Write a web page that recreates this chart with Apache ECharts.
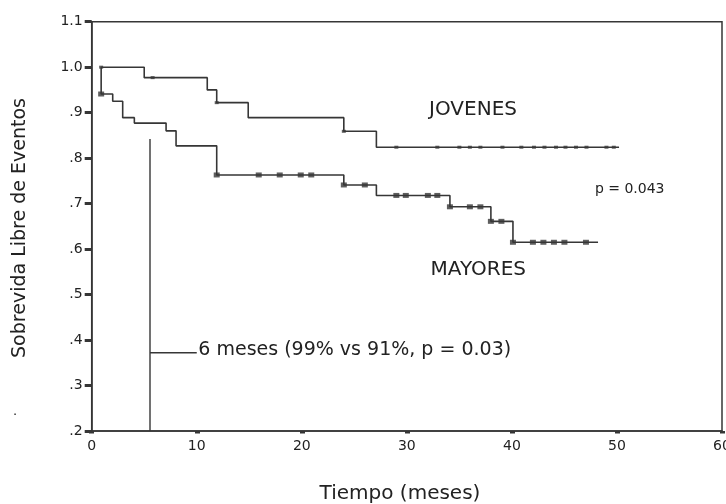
<!DOCTYPE html>
<html>
<head>
<meta charset="utf-8">
<script src="https://cdn.jsdelivr.net/npm/echarts@6/dist/echarts.min.js"></script>
<style>
html, body { margin: 0; padding: 0; background: #fff; }
#chart { width: 726px; height: 504px; }
</style>
</head>
<body>
<div id="chart"></div>
<script>
// ticks
const xTicks = ['0', '10', '20', '30', '40', '50', '60'];
const yTickLabels = ['.2', '.3', '.4', '.5', '.6', '.7', '.8', '.9', '1.0', '1.1'];

// JOVENES curve (meses / sobrevida)
const jovStart = 0.9;
const jovTimes = [5.0, 11.0, 11.9, 14.9, 24.0, 27.1];
const jovSurv = [0.977, 0.950, 0.922, 0.889, 0.859, 0.824];
const jovEnd = 50.2;
const jovCensor = [0.9, 5.8, 11.9, 24.0, 29.0, 32.9, 35.0, 36.0, 37.0, 39.1, 40.9, 42.1, 43.1, 44.2, 45.1, 46.1, 47.1, 49.0, 49.7];

// MAYORES curve
const mayStart = 0.9;
const mayTimes = [0.9, 2.0, 2.95, 4.06, 7.08, 8.03, 11.9, 24.0, 27.1, 34.1, 38.0, 40.1];
const maySurv = [0.941, 0.925, 0.889, 0.877, 0.860, 0.827, 0.763, 0.741, 0.718, 0.693, 0.661, 0.615];
const mayEnd = 48.2;
const mayCensor = [0.9, 11.9, 15.9, 17.9, 19.9, 20.9, 24.0, 26.0, 29.0, 29.9, 32.0, 32.9, 34.1, 36.0, 37.0, 38.0, 39.0, 40.1, 42.0, 43.0, 44.0, 45.0, 47.05];

// 6 month marker
const sixMonthX = 5.55;
const sixMonthTop = 0.842;
const sixMonthY = 0.372;
const sixMonthEnd = 10.0;

// annotation texts [x, y, text, align, size]
const notes = [
    [36.3, 0.906, 'JOVENES', 'center', 20],
    [36.8, 0.554, 'MAYORES', 'center', 20],
    [47.9, 0.732, 'p = 0.043', 'left', 14],
    [10.15, 0.378, '6 meses (99% vs 91%, p = 0.03)', 'left', 19]
];

function kmLine(start, times, surv, end) {
    let d = [[start, 1.0]];
    for (let i = 0; i < times.length; i++) d.push([times[i], surv[i]]);
    d.push([end, surv[surv.length - 1]]);
    return d;
}
function survivalAt(times, surv, t) {
    let s = 1.0;
    for (let i = 0; i < times.length; i++) {
        if (t >= times[i] - 1e-9) s = surv[i];
    }
    return s;
}

const lineColor = '#363636';
const textColor = '#222';
const font = 'DejaVu Sans';

let chart = echarts.init(document.getElementById('chart'));
let option = {
    backgroundColor: '#fff',
    animation: false,
    grid: {
        left: 91.7,
        right: 4,
        top: 21.7,
        bottom: 73,
        containLabel: false,
        outerBoundsMode: 'none',
        show: true,
        borderColor: lineColor,
        borderWidth: 1.5
    },
    xAxis: {
        type: 'value',
        min: 0,
        max: 60,
        interval: 10,
        axisLine: { show: true, lineStyle: { color: lineColor, width: 1.5 } },
        axisTick: { show: true, inside: false, length: 2.5, lineStyle: { color: lineColor, width: 5 } },
        axisLabel: {
            margin: 8,
            color: textColor,
            fontFamily: font,
            fontSize: 14,
            formatter: function (v) { return xTicks[Math.round(v / 10)]; }
        },
        splitLine: { show: false }
    },
    yAxis: {
        type: 'value',
        min: 0.2,
        max: 1.1,
        interval: 0.1,
        axisLine: { show: true, lineStyle: { color: lineColor, width: 1.5 } },
        axisTick: { show: true, length: 7, lineStyle: { color: lineColor, width: 3 } },
        axisLabel: {
            margin: 9,
            color: textColor,
            fontFamily: font,
            fontSize: 14,
            formatter: function (v) { return yTickLabels[Math.round((v - 0.2) * 10)]; }
        },
        splitLine: { show: false }
    },
    graphic: [
        {
            type: 'text',
            x: 20,
            y: 228,
            rotation: Math.PI / 2,
            style: {
                text: 'Sobrevida Libre de Eventos',
                fill: textColor,
                font: '19px "DejaVu Sans"',
                align: 'center',
                verticalAlign: 'middle'
            }
        },
        {
            type: 'text',
            x: 400,
            y: 494,
            style: {
                text: 'Tiempo (meses)',
                fill: textColor,
                font: '20px "DejaVu Sans"',
                align: 'center',
                verticalAlign: 'middle'
            }
        },
        {
            type: 'text',
            x: 15,
            y: 412,
            style: { text: '.', fill: textColor, font: '13px "DejaVu Sans"', align: 'center', verticalAlign: 'middle' }
        }
    ],
    series: [
        {
            name: 'JOVENES',
            type: 'line',
            step: 'end',
            symbol: 'none',
            lineStyle: { color: lineColor, width: 1.6 },
            data: kmLine(jovStart, jovTimes, jovSurv, jovEnd)
        },
        {
            name: 'MAYORES',
            type: 'line',
            step: 'end',
            symbol: 'none',
            lineStyle: { color: lineColor, width: 1.6 },
            data: kmLine(mayStart, mayTimes, maySurv, mayEnd)
        },
        {
            name: 'JOVENES censura',
            type: 'scatter',
            symbol: 'rect',
            symbolSize: [4, 3],
            itemStyle: { color: lineColor },
            data: jovCensor.map(t => [t, survivalAt(jovTimes, jovSurv, t)])
        },
        {
            name: 'MAYORES censura',
            type: 'scatter',
            symbol: 'rect',
            symbolSize: [6, 5],
            itemStyle: { color: lineColor },
            data: mayCensor.map(t => [t, survivalAt(mayTimes, maySurv, t)])
        },
        {
            name: '6 meses v',
            type: 'line',
            symbol: 'none',
            lineStyle: { color: lineColor, width: 1.4 },
            data: [[sixMonthX, sixMonthTop], [sixMonthX, 0.2]]
        },
        {
            name: '6 meses h',
            type: 'line',
            symbol: 'none',
            lineStyle: { color: lineColor, width: 1.4 },
            data: [[sixMonthX, sixMonthY], [sixMonthEnd, sixMonthY]]
        },
        {
            name: 'notas',
            type: 'scatter',
            symbolSize: 0,
            silent: true,
            itemStyle: { opacity: 1 },
            data: notes.map(n => ({
                value: [n[0], n[1]],
                label: {
                    show: true,
                    position: n[3] === 'left' ? 'right' : 'inside',
                    distance: 0,
                    formatter: n[2],
                    color: textColor,
                    opacity: 1,
                    fontFamily: font,
                    fontSize: n[4]
                }
            }))
        }
    ]
};
chart.setOption(option);
window.addEventListener('resize', function () {
    chart.resize();
});
</script>
</body>
</html>
